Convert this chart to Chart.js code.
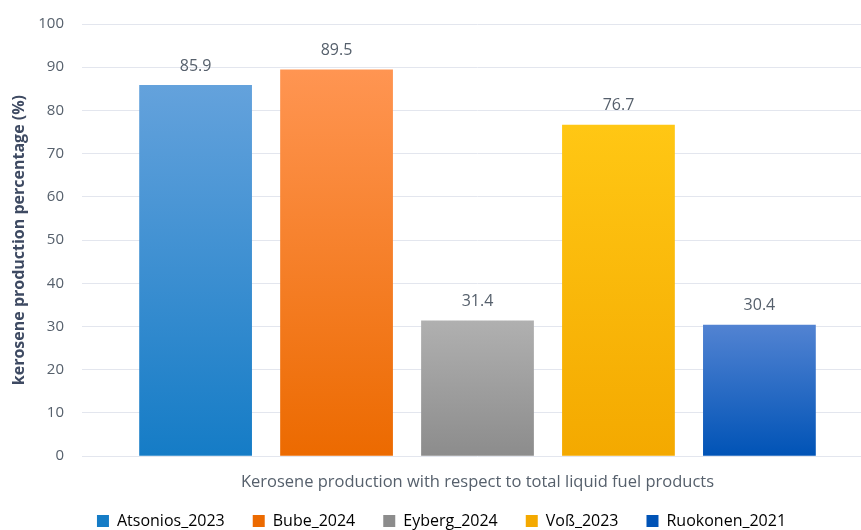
<!DOCTYPE html>
<html>
<head>
<meta charset="utf-8">
<script src="https://cdn.jsdelivr.net/npm/chart.js@4"></script>
<style>
  html, body { margin: 0; padding: 0; background: #fff; overflow: hidden; }
  #clip { width: 861px; height: 530px; overflow: hidden; }
  #wrap { width: 873px; height: 530px; }
</style>
</head>
<body>
<div id="clip"><div id="wrap"><canvas id="keroseneChart"></canvas></div></div>
<script>
// series names, values and bar colours (top -> bottom of gradient)
const seriesNames = ['Atsonios_2023', 'Bube_2024', 'Eyberg_2024', 'Voß_2023', 'Ruokonen_2021'];
const seriesValues = [85.9, 89.5, 31.4, 76.7, 30.4];
const colorsTop = ['#64a2dc', '#ff9552', '#b0b0b0', '#ffc714', '#5283d2'];
const colorsBottom = ['#157cc6', '#ec6a00', '#8c8c8c', '#f4a900', '#0053b6'];
const categories = [''];
const xTitle = 'Kerosene production with respect to total liquid fuel products';
const yTitle = 'kerosene production percentage (%)';

const textColor = '#56606c';
const fontFamily = '"Open Sans", sans-serif';

// vertical gradient spanning the bar itself
function barGradient(i) {
    return function(context) {
        const chart = context.chart;
        const yScale = chart.scales.y;
        if (!yScale || context.parsed === undefined) return colorsTop[i];
        const top = yScale.getPixelForValue(context.parsed.y);
        const bottom = yScale.getPixelForValue(0);
        const g = chart.ctx.createLinearGradient(0, top, 0, bottom);
        g.addColorStop(0, colorsTop[i]);
        g.addColorStop(1, colorsBottom[i]);
        return g;
    };
}

// value labels above each bar
const valueLabels = {
    id: 'valueLabels',
    afterDatasetsDraw(chart) {
        const ctx = chart.ctx;
        ctx.save();
        ctx.font = '16px ' + fontFamily;
        ctx.fillStyle = textColor;
        ctx.textAlign = 'center';
        ctx.textBaseline = 'bottom';
        chart.data.datasets.forEach((ds, i) => {
            const meta = chart.getDatasetMeta(i);
            meta.data.forEach((bar, j) => {
                ctx.fillText(ds.data[j].toFixed(1), bar.x, bar.y - 11);
            });
        });
        ctx.restore();
    }
};

const datasets = seriesNames.map((name, i) => ({
    label: name,
    data: [seriesValues[i]],
    backgroundColor: barGradient(i),
    borderWidth: 0
}));

new Chart(document.getElementById('keroseneChart'), {
    type: 'bar',
    data: { labels: categories, datasets: datasets },
    options: {
        responsive: true,
        maintainAspectRatio: false,
        animation: false,
        categoryPercentage: 0.891,
        barPercentage: 0.8,
        layout: { padding: { top: 0, right: 0, left: 10, bottom: -9 } },
        plugins: {
            tooltip: { enabled: false },
            legend: {
                position: 'bottom',
                labels: {
                    color: textColor,
                    font: { family: fontFamily, size: 16 },
                    boxWidth: 12,
                    boxHeight: 12,
                    padding: 28,
                    generateLabels(chart) {
                        return chart.data.datasets.map((ds, i) => ({
                            text: ds.label,
                            fillStyle: colorsBottom[i],
                            strokeStyle: colorsBottom[i],
                            lineWidth: 0,
                            hidden: false,
                            datasetIndex: i
                        }));
                    }
                }
            }
        },
        scales: {
            x: {
                grid: { display: false },
                border: { display: false },
                ticks: { display: false },
                title: {
                    display: true,
                    text: xTitle,
                    color: textColor,
                    font: { family: fontFamily, size: 16.5 },
                    padding: { top: 8, bottom: -7 }
                }
            },
            y: {
                min: 0,
                max: 100,
                afterFit(scale) { scale.width = 72; },
                ticks: {
                    stepSize: 10,
                    color: textColor,
                    font: { family: fontFamily, size: 15, lineHeight: 0.8 },
                    padding: 18
                },
                grid: { color: '#e3e6ee', lineWidth: 1, drawTicks: false },
                border: { display: false },
                title: {
                    display: true,
                    text: yTitle,
                    color: '#3e4a62',
                    font: { family: fontFamily, size: 16, weight: 'bold' },
                    padding: { top: 0, bottom: 2 }
                }
            }
        }
    },
    plugins: [valueLabels]
});
</script>
</body>
</html>
